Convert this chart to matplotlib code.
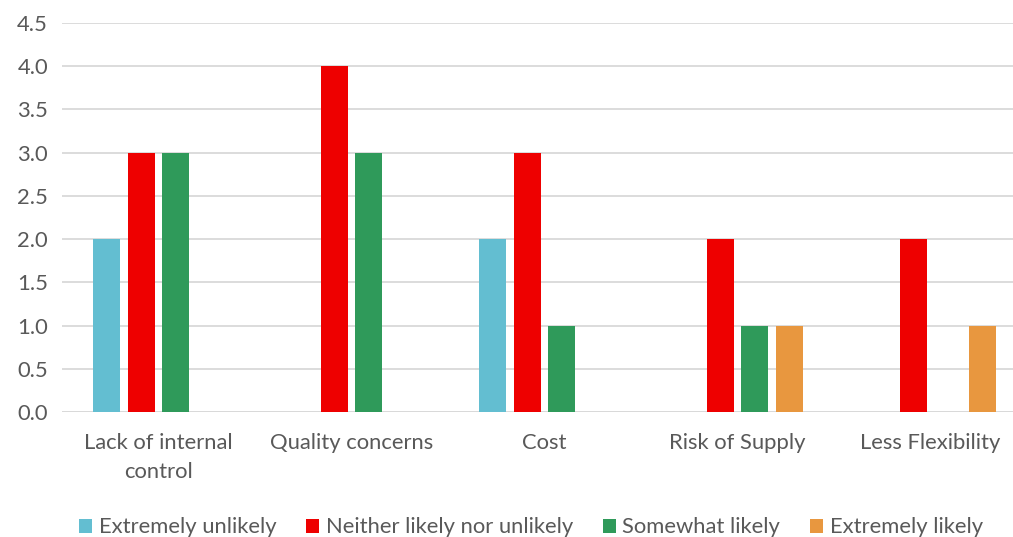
import numpy as np
import matplotlib
matplotlib.use("Agg")
import matplotlib.pyplot as plt
from matplotlib.patches import Patch

categories = ["Lack of internal\ncontrol", "Quality concerns", "Cost", "Risk of Supply", "Less Flexibility"]
series_names = ["Extremely unlikely", "Neither likely nor unlikely", "Somewhat likely", "Extremely likely"]
extremely_unlikely = [2, 0, 2, 0, 0]
neither = [3, 4, 3, 2, 2]
somewhat_likely = [3, 3, 1, 1, 0]
extremely_likely = [0, 0, 0, 1, 1]
y_ticks = [0.0, 0.5, 1.0, 1.5, 2.0, 2.5, 3.0, 3.5, 4.0, 4.5]

colors = ["#63BED1", "#EE0000", "#2F9A5A", "#E8973F"]
text_color = "#595959"

plt.rcParams['font.family'] = ['Lato', 'DejaVu Sans']

fig = plt.figure(figsize=(10.13, 5.37), dpi=100)
ax = fig.add_axes([62 / 1013, 125 / 537, 965 / 1013, 389 / 537])

x = np.arange(len(categories))
bar_w = 0.14
step = 0.181
all_series = [extremely_unlikely, neither, somewhat_likely, extremely_likely]
for i, (vals, c) in enumerate(zip(all_series, colors)):
    offs = (i - 1.5) * step
    ax.bar(x + offs, vals, width=bar_w, color=c, zorder=3)

ax.set_xlim(-0.5, len(categories) - 0.5)
ax.set_ylim(0, 4.5)
ax.set_yticks(y_ticks)
ax.set_yticklabels([f"{v:.1f}" for v in y_ticks])
ax.set_xticks(x)
ax.set_xticklabels(categories)
ax.grid(axis="y", color="#D9D9D9", linewidth=1.3, zorder=0)
ax.tick_params(axis="both", length=0, labelsize=15.8, colors=text_color)
ax.tick_params(axis="x", pad=15)
ax.tick_params(axis="y", pad=10)
for lbl in ax.get_xticklabels():
    lbl.set_linespacing(1.55)
for s in ax.spines.values():
    s.set_visible(False)
ax.axhline(0, color="#D9D9D9", linewidth=1.3, zorder=2)

handles = [Patch(facecolor=c, label=n) for c, n in zip(colors, series_names)]
fig.legend(handles=handles, loc="center", bbox_to_anchor=(0.524, 0.018), ncol=4,
           frameon=False, fontsize=15.8, labelcolor=text_color, handlelength=0.6,
           handleheight=0.6, handletextpad=0.3, columnspacing=1.35)

fig.savefig("out.png", dpi=100)
